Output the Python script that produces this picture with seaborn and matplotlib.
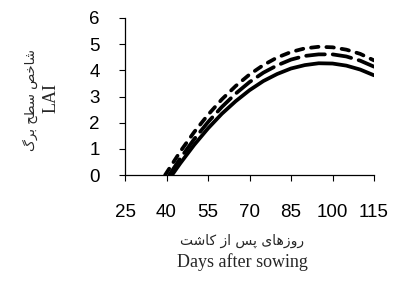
import matplotlib
matplotlib.use("Agg")
import matplotlib.pyplot as plt
import seaborn as sns
import pandas as pd

# Data (LAI vs days after sowing)
days_top = [39.5, 45, 50, 55, 60, 65, 70, 75, 80, 85, 90, 95, 100, 105, 110, 115]
lai_top = [0.0, 0.90, 1.64, 2.30, 2.89, 3.40, 3.84, 4.20, 4.49, 4.70, 4.84, 4.90, 4.88, 4.79, 4.63, 4.38]

days_mid = [41, 45, 50, 55, 60, 65, 70, 75, 80, 85, 90, 95, 100, 105, 110, 115]
lai_mid = [0.0, 0.64, 1.37, 2.02, 2.60, 3.11, 3.55, 3.91, 4.19, 4.41, 4.55, 4.61, 4.61, 4.53, 4.37, 4.14]

days_sol = [42, 45, 50, 55, 60, 65, 70, 75, 80, 85, 90, 95, 100, 105, 110, 115]
lai_sol = [0.0, 0.45, 1.15, 1.78, 2.34, 2.82, 3.24, 3.59, 3.86, 4.07, 4.20, 4.27, 4.26, 4.18, 4.03, 3.81]

x_ticks = [25, 40, 55, 70, 85, 100, 115]
y_ticks = [0, 1, 2, 3, 4, 5, 6]

# Persian labels in presentation forms (visual order) so they render joined
def visual(forms):
    return "".join(reversed(forms))

ylabel_fa = visual("\uFEB7\uFE8E\uFEA7\uFEBA \uFEB3\uFEC4\uFEA2 \uFE91\uFEAE\uFB92")
xlabel_fa = visual("\uFEAD\uFEED\uFEAF\uFEEB\uFE8E\uFBFC \uFB58\uFEB2 \uFE8D\uFEAF \uFB90\uFE8E\uFEB7\uFE96")

sns.set_theme(style="white")
plt.rcParams["font.family"] = ["Liberation Sans", "DejaVu Sans"]

fig = plt.figure(figsize=(3.93, 3.06), dpi=100)
ax = fig.add_axes([125/393, 1-175/306, 249/393, 157/306])

df_top = pd.DataFrame({"d": days_top, "v": lai_top})
df_mid = pd.DataFrame({"d": days_mid, "v": lai_mid})
df_sol = pd.DataFrame({"d": days_sol, "v": lai_sol})

lw = 2.7
sns.lineplot(data=df_top, x="d", y="v", ax=ax, color="black", lw=lw,
             dashes=False, estimator=None, sort=False)
sns.lineplot(data=df_mid, x="d", y="v", ax=ax, color="black", lw=lw,
             dashes=False, estimator=None, sort=False)
sns.lineplot(data=df_sol, x="d", y="v", ax=ax, color="black", lw=lw,
             dashes=False, estimator=None, sort=False)
lines = ax.get_lines()
lines[0].set_dashes((2.0, 2.1))
lines[0].set_dash_capstyle("round")
lines[1].set_dashes((5.0, 2.1))
lines[1].set_dash_capstyle("round")
lines[2].set_solid_capstyle("round")

ax.set_xlim(25, 115)
ax.set_ylim(0, 6)
ax.set_xticks(x_ticks)
ax.set_yticks(y_ticks)
ax.set_xticklabels([str(t) for t in x_ticks])
ax.set_yticklabels([str(t) for t in y_ticks])
for s in ["top", "right"]:
    ax.spines[s].set_visible(False)
for s in ["left", "bottom"]:
    ax.spines[s].set_color("black")
    ax.spines[s].set_linewidth(0.9)
ax.tick_params(axis="both", direction="out", length=4, width=0.8, color="black",
               labelsize=13.5, labelcolor="black")
ax.tick_params(axis="y", pad=14, left=True)
ax.tick_params(axis="x", pad=17, bottom=True)
ax.set_xlabel("")
ax.set_ylabel("")
ax.grid(False)

serif = ["Liberation Serif", "DejaVu Sans"]
fig.text(30/393, 1-100/306, ylabel_fa, rotation=90, ha="center", va="center",
         fontsize=9.5, family=["DejaVu Sans"])
fig.text(51/393, 1-98/306, "LAI", rotation=90, ha="center", va="center",
         fontsize=13, family=serif)
fig.text(242/393, 1-241/306, xlabel_fa, ha="center", va="center",
         fontsize=10, family=["DejaVu Sans"])
fig.text(242/393, 1-262/306, "Days after sowing", ha="center", va="center",
         fontsize=13, family=serif)

fig.savefig("out.png", dpi=100)
